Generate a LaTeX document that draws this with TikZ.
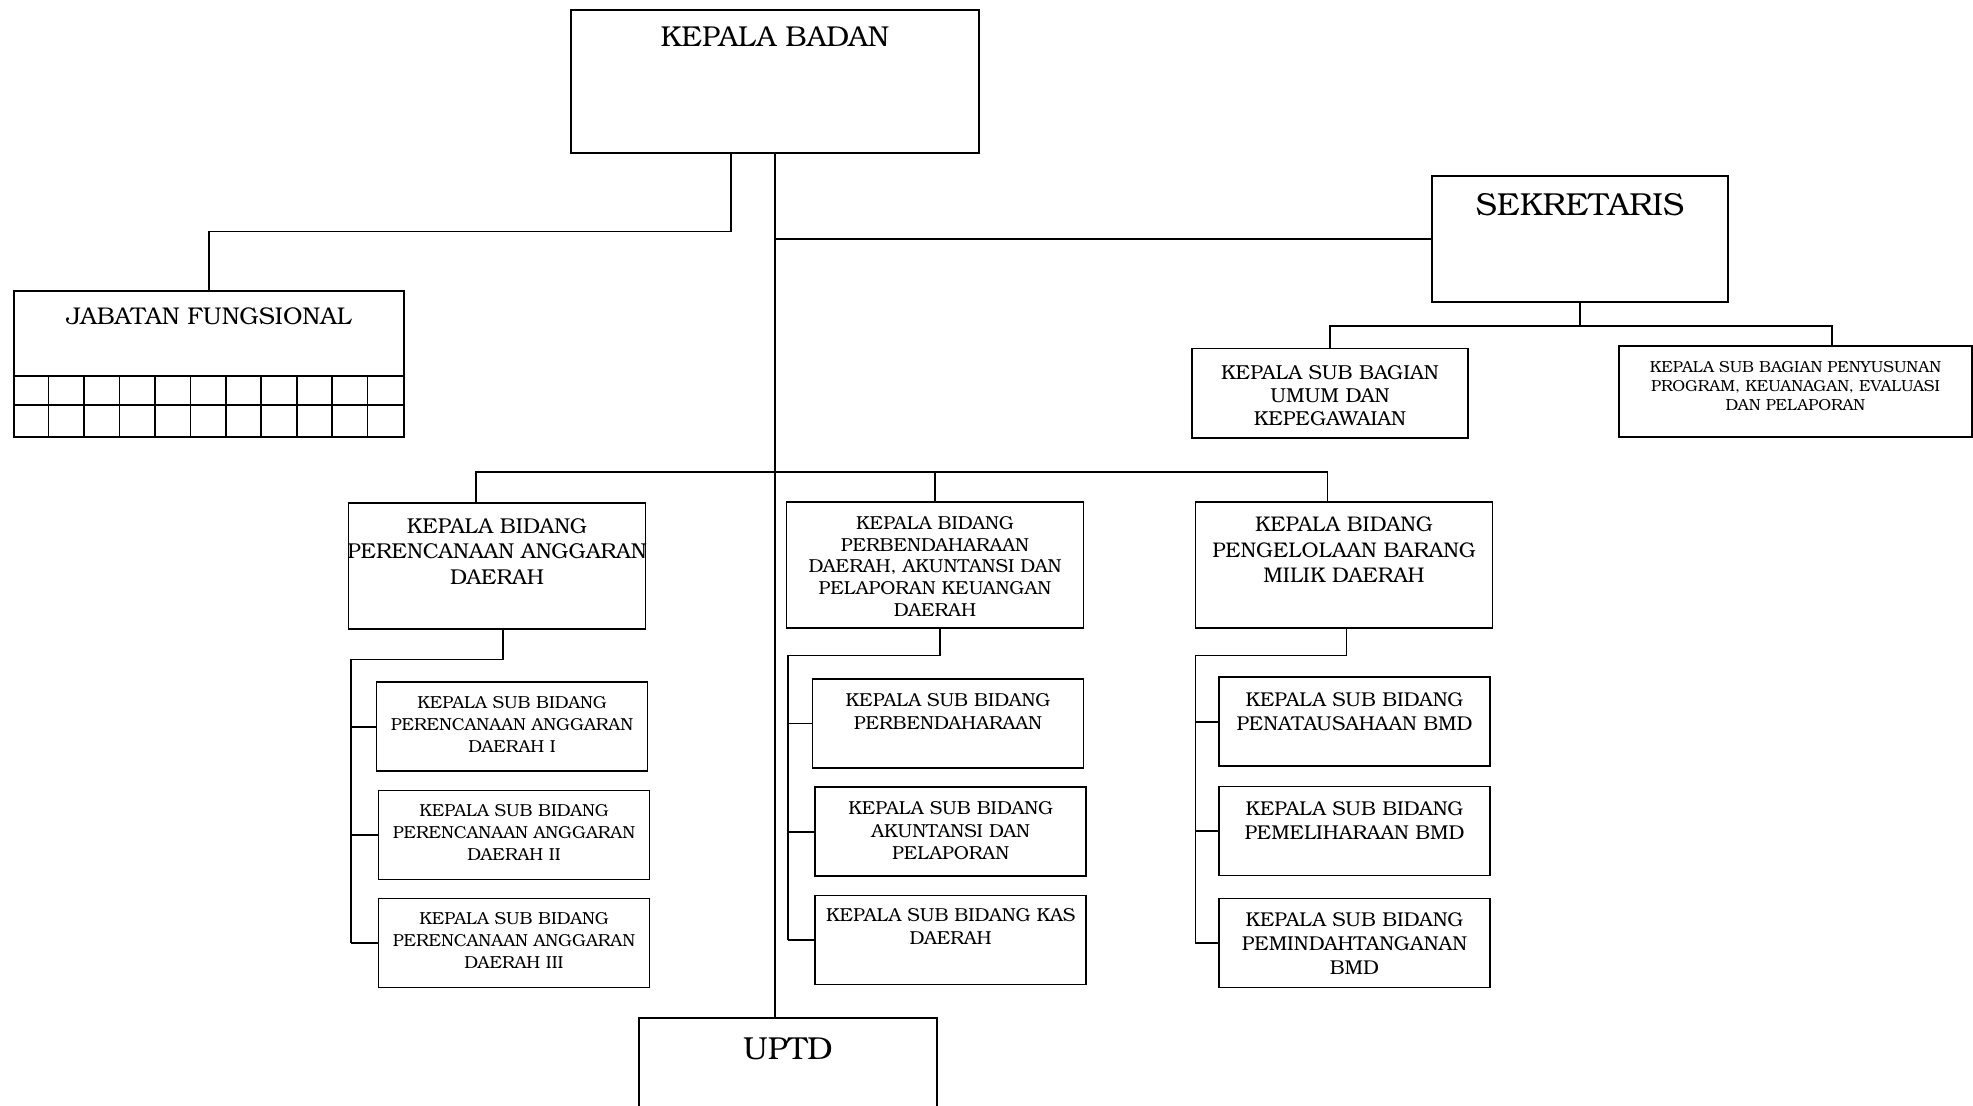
\documentclass[tikz,border=0pt]{standalone}
\usepackage{fontspec}
\setmainfont{TeX Gyre Bonum}
\usetikzlibrary{positioning}

\begin{document}
\begin{tikzpicture}[x=0.5pt,y=-0.5pt,line width=0.8pt,
    box/.style={draw,line width=0.9pt,inner sep=0pt},
    bid/.style={box,minimum width=148.5pt,minimum height=63pt},
    sub/.style={box,minimum width=135.5pt,minimum height=44.5pt},
    txt/.style={align=center,inner sep=0pt}]
    \useasboundingbox (0,0) rectangle (1973,1106);

    % top level
    \node[box,minimum width=204pt,minimum height=71.5pt](kb) at (775,81.5){};
    \node[txt,font=\fontsize{14.4}{17}\selectfont,below=8.7pt of kb.north](kbt){KEPALA BADAN};
    \node[box,minimum width=148pt,minimum height=63pt](sek) at (1580,239){};
    \node[txt,font=\fontsize{15.9}{18}\selectfont,below=8.6pt of sek.north](sekt){SEKRETARIS};
    \node[box,minimum width=149pt,minimum height=63pt](uptd) at (788,1081){};
    \node[txt,font=\fontsize{15.9}{18}\selectfont,below=9.9pt of uptd.north](uptdt){UPTD};

    % jabatan fungsional
    \node[box,minimum width=195pt,minimum height=73pt](jf) at (209,364){};
    \node[txt,font=\fontsize{12.1}{14}\selectfont,below=8.6pt of jf.north](jft){JABATAN FUNGSIONAL};
    \draw ([yshift=31pt]jf.south west)--([yshift=31pt]jf.south east);
    \draw ([yshift=16.5pt]jf.south west)--([yshift=16.5pt]jf.south east);
    \foreach \i in {1,...,10}
        \draw ([xshift={\i*17.727pt}]jf.south west)--++(0,-62);

    % sekretariat
    \node[box,minimum width=138pt,minimum height=44.75pt](umum) at (1330,393.25){};
    \node[txt,font=\fontsize{10.1}{11.6}\selectfont,below=8.3pt of umum.north](umumt){KEPALA SUB BAGIAN\\UMUM DAN\\KEPEGAWAIAN};
    \node[box,minimum width=176.5pt,minimum height=45.5pt](peny) at (1795.5,391.5){};
    \node[txt,font=\fontsize{8}{9.5}\selectfont,below=7.6pt of peny.north](penyt){KEPALA SUB BAGIAN PENYUSUNAN\\PROGRAM, KEUANAGAN, EVALUASI\\DAN PELAPORAN};

    % bidang
    \node[bid](b1) at (497,566){};
    \node[txt,font=\fontsize{10.75}{12.75}\selectfont,below=7.6pt of b1.north](b1t){KEPALA BIDANG\\PERENCANAAN ANGGARAN\\DAERAH};
    \node[bid](b2) at (935,565){};
    \node[txt,font=\fontsize{9.4}{10.8}\selectfont,below=7.4pt of b2.north](b2t){KEPALA BIDANG\\PERBENDAHARAAN\\DAERAH, AKUNTANSI DAN\\PELAPORAN KEUANGAN\\DAERAH};
    \node[bid](b3) at (1344,565){};
    \node[txt,font=\fontsize{10.6}{12.8}\selectfont,below=7.5pt of b3.north](b3t){KEPALA BIDANG\\PENGELOLAAN BARANG\\MILIK DAERAH};

    % sub bidang
    \node[sub](sb1) at (512,726.7){};
    \node[sub](sb2) at (514,835){};
    \node[sub](sb3) at (514,943){};
    \foreach \n/\t in {sb1/I,sb2/II,sb3/III}
        \node[txt,font=\fontsize{8.7}{11}\selectfont,below=7.1pt of \n.north](\n t){KEPALA SUB BIDANG\\PERENCANAAN ANGGARAN\\DAERAH \t};
    \node[sub](sb4) at (948,723.5){};
    \node[txt,font=\fontsize{9.4}{11.3}\selectfont,below=7.3pt of sb4.north](sb4t){KEPALA SUB BIDANG\\PERBENDAHARAAN};
    \node[sub](sb5) at (950.7,831.7){};
    \node[txt,font=\fontsize{9.4}{11.3}\selectfont,below=7.2pt of sb5.north](sb5t){KEPALA SUB BIDANG\\AKUNTANSI DAN\\PELAPORAN};
    \node[sub](sb6) at (950.7,940){};
    \node[txt,font=\fontsize{9.4}{11.3}\selectfont,below=6.5pt of sb6.north](sb6t){KEPALA SUB BIDANG KAS\\DAERAH};
    \node[sub](sb7) at (1354.5,721.7){};
    \node[txt,font=\fontsize{10}{12}\selectfont,below=7.6pt of sb7.north](sb7t){KEPALA SUB BIDANG\\PENATAUSAHAAN BMD};
    \node[sub](sb8) at (1354.5,831){};
    \node[txt,font=\fontsize{10}{12}\selectfont,below=7.6pt of sb8.north](sb8t){KEPALA SUB BIDANG\\PEMELIHARAAN BMD};
    \node[sub](sb9) at (1354.5,943){};
    \node[txt,font=\fontsize{10}{12}\selectfont,below=7.1pt of sb9.north](sb9t){KEPALA SUB BIDANG\\PEMINDAHTANGANAN\\BMD};

    % lines
    \coordinate (jfc) at (731,231.5);
    \draw (kb.south -| jfc)--(jfc)-|(jf.north);
    \draw (kb.south)--(uptd.north -| kb.south);
    \draw (sek.west)--(sek.west -| kb.south);

    \coordinate (sbar) at (1832,326);
    \draw (sek.south)--(sek.south |- sbar);
    \draw (umum.north)|-(sbar)--(sbar |- peny.north);

    \coordinate (d1) at (476,472);
    \coordinate (d3) at (1327.5,472);
    \draw (d1 |- b1.north)--(d1)--(d3)--(d3 |- b3.north);
    \draw (b2.north)--(b2.north |- d1);

    \coordinate (c1) at (351,659.4);
    \coordinate (c2) at (787.7,655.6);
    \coordinate (c3) at (1195.4,655.6);
    \draw ([xshift=3pt]b1.south)|-(c1)--(c1 |- sb3.west);
    \draw ([xshift=2.5pt]b2.south)|-(c2)--(c2 |- sb6.west);
    \draw ([xshift=1.2pt]b3.south)|-(c3)--(c3 |- sb9.west);
    \foreach \n in {sb1,sb2,sb3} \draw (\n.west)--(\n.west -| c1);
    \foreach \n in {sb4,sb5,sb6} \draw (\n.west)--(\n.west -| c2);
    \foreach \n in {sb7,sb8,sb9} \draw (\n.west)--(\n.west -| c3);
\end{tikzpicture}
\end{document}
